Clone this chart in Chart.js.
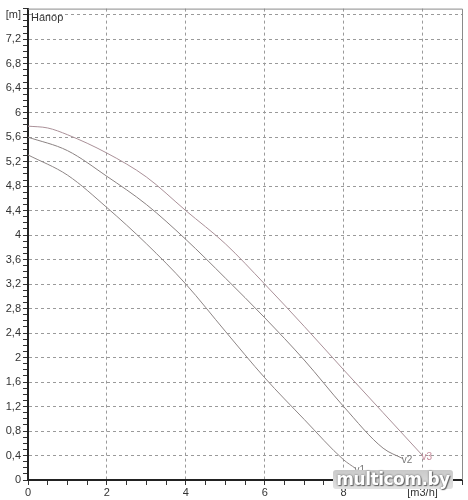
<!DOCTYPE html>
<html>
<head>
<meta charset="utf-8">
<script src="https://cdn.jsdelivr.net/npm/chart.js@4.4.0/dist/chart.umd.min.js"></script>
<style>
  html, body { margin: 0; padding: 0; background: #fff; }
  #wrap { position: relative; width: 468px; height: 500px; }
  #wm {
    position: absolute; left: 333px; top: 470px; width: 120px; height: 19px;
    background: linear-gradient(#c9c9c9, #e2e2e2); border-radius: 3px;
    font: bold 17px "DejaVu Sans", sans-serif; line-height: 19px; text-align: center;
    color: #fff; text-shadow: 0 0 2px #555, 1px 1px 1px #666; letter-spacing: -0.5px;
  }
</style>
</head>
<body>
<div id="wrap">
  <canvas id="c" width="468" height="500"></canvas>
  <div id="wm">multicom.by</div>
</div>
<script>
// pump head curves, speeds v1..v3
const flowV1 = [0, 1, 2, 3, 4, 5, 6, 7, 8, 8.3];
const headV1 = [5.31, 4.98, 4.45, 3.86, 3.2, 2.43, 1.67, 0.99, 0.33, 0.19];
const flowV2 = [0, 1, 2, 3, 4, 5, 6, 7, 8, 9, 9.5];
const headV2 = [5.6, 5.38, 4.96, 4.5, 3.93, 3.3, 2.65, 1.96, 1.2, 0.52, 0.35];
const flowV3 = [0, 0.5, 1, 2, 3, 4, 5, 6, 7, 8, 9, 10];
const headV3 = [5.78, 5.75, 5.64, 5.34, 4.95, 4.4, 3.86, 3.2, 2.51, 1.8, 1.1, 0.4];

const seriesNames = ['v1', 'v2', 'v3'];
const lineColors = ['#8e8686', '#8a8282', '#aa9098'];
const labelColors = ['#777', '#777', '#c58a9a'];

const yLabelEvery = 4;       // tenths -> label every 0.4
const yUnitTick = 76;        // 7.6 shows "[m]"
const xUnitTick = 10;        // 10 shows "[m3/h]"

const FONT = '"Liberation Sans", Arial, sans-serif';
const pts = (xs, ys) => xs.map((x, i) => ({ x, y: ys[i] }));

const frame = {
  id: 'frame',
  afterDraw(chart) {
    const { ctx, chartArea: a } = chart;
    ctx.save();
    ctx.strokeStyle = '#8a8a8a'; ctx.lineWidth = 1;
    ctx.beginPath();
    ctx.moveTo(a.left, a.top + 0.5); ctx.lineTo(a.right + 0.5, a.top + 0.5); ctx.lineTo(a.right + 0.5, a.bottom);
    ctx.stroke();
    // title inside plot
    ctx.fillStyle = '#333'; ctx.font = '11px ' + FONT;
    ctx.textBaseline = 'middle'; ctx.textAlign = 'left';
    ctx.fillText('Напор', a.left + 3, chart.scales.y.getPixelForValue(7.6) + 3);
    // end labels
    ctx.font = '10px ' + FONT;
    chart.data.datasets.forEach((ds, i) => {
      const m = chart.getDatasetMeta(i).data;
      const p = m[m.length - 1];
      ctx.fillStyle = labelColors[i];
      ctx.fillText(seriesNames[i], p.x - 1, p.y + 2);
    });
    ctx.restore();
  }
};

new Chart(document.getElementById('c'), {
  type: 'line',
  data: {
    datasets: [pts(flowV1, headV1), pts(flowV2, headV2), pts(flowV3, headV3)].map((d, i) => ({
      label: seriesNames[i], data: d, borderColor: lineColors[i], borderWidth: 1,
      pointRadius: 0, cubicInterpolationMode: 'monotone', fill: false
    }))
  },
  options: {
    responsive: false, animation: false,
    layout: { padding: { top: 8, right: 6, left: 0, bottom: 0 } },
    plugins: { legend: { display: false }, tooltip: { enabled: false } },
    scales: {
      x: {
        type: 'linear', min: 0, max: 11,
        afterFit: s => { s.height = 20; },
        ticks: {
          stepSize: 0.5, maxTicksLimit: 200, autoSkip: false, maxRotation: 0, padding: 1,
          color: '#333', font: { size: 11, family: FONT },
          callback: v => {
            const k = Math.round(v * 2);
            if (k % 4) return '';
            if (v === xUnitTick) return '[m3/h]';
            return v > 10 ? '' : String(v);
          }
        },
        grid: {
          color: c => { const v = c.tick.value; return (Math.round(v * 2) % 4 === 0 && v > 0 && v < 11) ? '#9a9a9a' : 'rgba(0,0,0,0)'; },
          tickColor: '#333', tickLength: 5, lineWidth: 1
        },
        border: { color: '#222', width: 2, dash: [3, 3] }
      },
      y: {
        type: 'linear', min: 0, max: 7.7,
        afterFit: s => { s.width = 28; },
        ticks: {
          stepSize: 0.1, maxTicksLimit: 200, autoSkip: false, padding: 2,
          color: '#333', font: { size: 11, family: FONT },
          callback: v => {
            const k = Math.round(v * 10);
            if (k % yLabelEvery) return '';
            if (k === yUnitTick) return '[m]';
            return String(k / 10).replace('.', ',');
          }
        },
        grid: {
          color: c => { const k = Math.round(c.tick.value * 10); return (k % yLabelEvery === 0 && k > 0) ? '#9a9a9a' : 'rgba(0,0,0,0)'; },
          tickColor: '#333', tickLength: 5, lineWidth: 1
        },
        border: { color: '#222', width: 2, dash: [3, 3] }
      }
    }
  },
  plugins: [frame]
});
</script>
</body>
</html>
